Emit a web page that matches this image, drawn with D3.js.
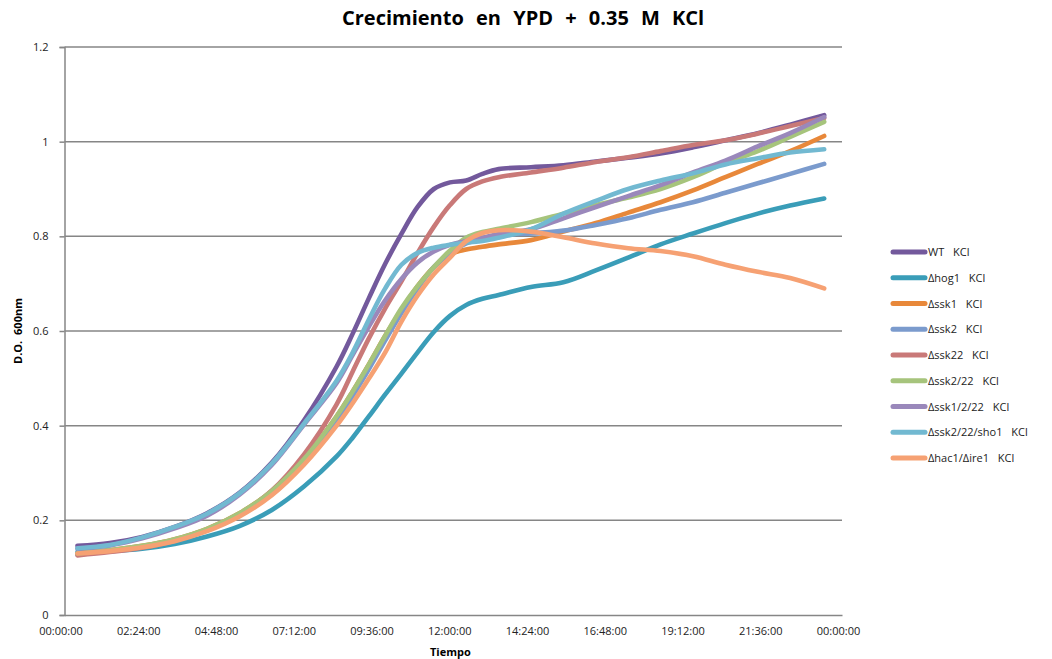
<!DOCTYPE html>
<html><head><meta charset="utf-8">
<script src="https://cdn.jsdelivr.net/npm/d3@7"></script>
<style>body{margin:0;background:#fff}svg{display:block}</style>
</head><body><svg id="c" width="1052" height="659"></svg>
<script>
const times = [0.4,1.4,2.4,3.4,4.4,5.4,6.4,7.4,8.4,8.9,9.4,9.9,10.4,10.9,11.4,11.9,12.4,12.9,13.4,14.4,15.4,16.4,17.4,18.4,19.4,20.4,21.4,22.4,23.45];
const seriesNames = ["WT KCl","\u0394hog1 KCl","\u0394ssk1 KCl","\u0394ssk2 KCl","\u0394ssk22 KCl","\u0394ssk2/22 KCl","\u0394ssk1/2/22 KCl","\u0394ssk2/22/sho1 KCl","\u0394hac1/\u0394ire1 KCl"];
const wt      = [0.146,0.152,0.165,0.186,0.215,0.258,0.322,0.412,0.525,0.595,0.67,0.742,0.805,0.862,0.9,0.914,0.918,0.932,0.942,0.946,0.95,0.958,0.966,0.975,0.988,1.003,1.018,1.036,1.056];
const hog1    = [0.133,0.135,0.14,0.15,0.166,0.188,0.222,0.272,0.335,0.375,0.42,0.466,0.51,0.555,0.598,0.632,0.655,0.668,0.676,0.693,0.703,0.728,0.755,0.783,0.806,0.828,0.848,0.865,0.88];
const ssk1    = [0.13,0.137,0.146,0.16,0.182,0.215,0.262,0.33,0.42,0.473,0.53,0.59,0.645,0.695,0.735,0.762,0.772,0.778,0.783,0.792,0.81,0.828,0.85,0.872,0.897,0.925,0.953,0.98,1.012];
const ssk2    = [0.128,0.135,0.144,0.158,0.179,0.211,0.257,0.324,0.41,0.463,0.52,0.58,0.638,0.69,0.735,0.765,0.785,0.795,0.803,0.806,0.812,0.824,0.838,0.856,0.872,0.892,0.912,0.932,0.953];
const ssk22   = [0.126,0.133,0.142,0.157,0.18,0.213,0.263,0.34,0.445,0.515,0.585,0.648,0.705,0.765,0.82,0.866,0.9,0.916,0.925,0.935,0.945,0.957,0.967,0.98,0.993,1.003,1.017,1.033,1.05];
const ssk2_22 = [0.13,0.137,0.146,0.16,0.182,0.215,0.262,0.33,0.42,0.473,0.53,0.59,0.648,0.695,0.735,0.77,0.797,0.809,0.816,0.83,0.848,0.866,0.882,0.9,0.925,0.955,0.98,1.01,1.042];
const ssk1_2_22 = [0.14,0.147,0.162,0.183,0.21,0.254,0.317,0.403,0.49,0.55,0.61,0.665,0.71,0.745,0.768,0.782,0.79,0.797,0.805,0.815,0.838,0.862,0.885,0.908,0.935,0.96,0.99,1.018,1.052];
const sho1    = [0.141,0.148,0.164,0.186,0.214,0.257,0.32,0.405,0.495,0.555,0.625,0.69,0.74,0.765,0.776,0.782,0.787,0.79,0.797,0.815,0.848,0.875,0.9,0.918,0.933,0.952,0.965,0.977,0.984];
const hac1    = [0.13,0.135,0.143,0.156,0.177,0.208,0.253,0.318,0.4,0.448,0.5,0.555,0.62,0.675,0.72,0.755,0.79,0.807,0.813,0.81,0.798,0.785,0.775,0.769,0.758,0.74,0.725,0.712,0.69];
const seriesValues = [wt,hog1,ssk1,ssk2,ssk22,ssk2_22,ssk1_2_22,sho1,hac1];
const colors = ["#73599c","#3a9db8","#e8883a","#7b9bcd","#c97978","#a6c47c","#9a88bb","#72b9d1","#f6a173"];
const xTickLabels = ["00:00:00","02:24:00","04:48:00","07:12:00","09:36:00","12:00:00","14:24:00","16:48:00","19:12:00","21:36:00","00:00:00"];
const yTicks = [0,0.2,0.4,0.6,0.8,1,1.2];
const titleText = "Crecimiento en YPD + 0.35 M KCl";
const xTitle = "Tiempo";
const yTitle = "D.O. 600nm";

const svg = d3.select("#c");
const L = 64.5, R = 842, T = 47, B = 615;
const x = d3.scaleLinear().domain([0,24]).range([L,R]);
const y = d3.scaleLinear().domain([0,1.2]).range([B,T]);
const font = "'Open Sans', sans-serif";

// gridlines
svg.append("g").selectAll("line").data(yTicks.filter(d=>d>0)).join("line")
  .attr("x1",L).attr("x2",R).attr("y1",d=>y(d)).attr("y2",d=>y(d))
  .attr("stroke","#868686").attr("stroke-width",1.5);

// y axis
const ya = svg.append("g").attr("transform",`translate(${L},0)`)
  .call(d3.axisLeft(y).tickValues(yTicks).tickFormat(d=>String(d)).tickSize(5).tickPadding(9));
ya.select(".domain").attr("stroke","#868686").attr("stroke-width",1.5);
ya.selectAll(".tick line").attr("stroke","#868686").attr("stroke-width",1.5);
ya.selectAll("text").attr("font-family",font).attr("font-size",11).attr("fill","#222").attr("dx",-2);

// x axis
const xa = svg.append("g").attr("transform",`translate(0,${B})`)
  .call(d3.axisBottom(x).tickValues(d3.range(0,24.01,2.4)).tickFormat((d,i)=>xTickLabels[i]).tickSize(0).tickPadding(12));
xa.select(".domain").attr("stroke","#868686").attr("stroke-width",1.5);
xa.selectAll("text").attr("font-family",font).attr("font-size",11).attr("fill","#222").attr("dx",-4);

// lines
const line = d3.line().x((d,i)=>x(times[i])).y(d=>y(d)).curve(d3.curveCatmullRom.alpha(0.5));
svg.append("g").selectAll("path").data(seriesValues).join("path")
  .attr("d",d=>line(d)).attr("fill","none")
  .attr("stroke",(d,i)=>colors[i]).attr("stroke-width",4.6)
  .attr("stroke-linecap","round").attr("stroke-linejoin","round");

// titles
svg.append("text").attr("x",342).attr("y",25).attr("text-anchor","start")
  .attr("font-family",font).attr("font-weight","bold").attr("font-size",20)
  .attr("word-spacing",7).attr("fill","#000").text(titleText);
svg.append("text").attr("x",430).attr("y",656).attr("text-anchor","start")
  .attr("font-family",font).attr("font-weight","bold").attr("font-size",11).attr("fill","#000").text(xTitle);
svg.append("text").attr("transform","translate(22,331) rotate(-90)").attr("text-anchor","middle")
  .attr("font-family",font).attr("font-weight","bold").attr("font-size",11).attr("word-spacing",3)
  .attr("fill","#000").text(yTitle);

// legend
const lg = svg.append("g").selectAll("g").data(seriesNames).join("g")
  .attr("transform",(d,i)=>`translate(893,${252+i*25.75})`);
lg.append("line").attr("x1",0).attr("x2",32).attr("stroke",(d,i)=>colors[i])
  .attr("stroke-width",5).attr("stroke-linecap","round");
lg.append("text").attr("x",35).attr("y",4).attr("font-family",font).attr("font-size",11)
  .attr("word-spacing",6).attr("fill","#222").text(d=>d);
</script></body></html>
